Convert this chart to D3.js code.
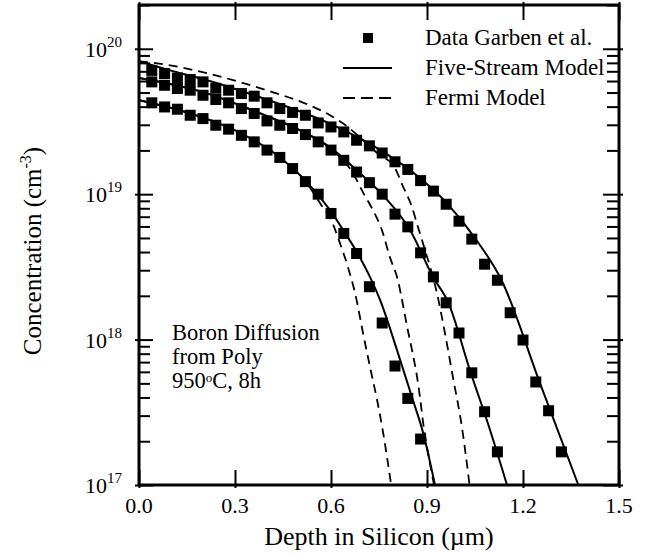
<!DOCTYPE html>
<html><head><meta charset="utf-8">
<script src="https://cdn.jsdelivr.net/npm/d3@7"></script>
<style>
body{margin:0;background:#fff;}
text{font-family:"Liberation Serif","Times New Roman",serif;fill:#000;}
</style></head>
<body><div id="chart"></div>
<script>
// ---------- data ----------
const xTicks = [0, 0.3, 0.6, 0.9, 1.2, 1.5];
const xTickLabels = ["0.0", "0.3", "0.6", "0.9", "1.2", "1.5"];
const yMajorTicks = [1e17, 1e18, 1e19, 1e20];
const yMajorExp = ["17", "18", "19", "20"];

// measured data (Garben et al.), three profiles
const depthA = [0.04,0.08,0.12,0.16,0.20,0.24,0.28,0.32,0.36,0.40,0.44,0.48,0.52,0.56,0.60,0.64,0.68,0.72,0.76,0.80,0.84,0.88,0.92,0.96,1.00,1.04,1.08,1.12,1.16,1.20,1.24,1.28,1.32];
const concA = [7.1e19,6.76e19,6.3e19,6.14e19,5.92e19,5.35e19,5.19e19,4.92e19,4.72e19,4.25e19,3.88e19,3.65e19,3.49e19,3.09e19,2.9e19,2.68e19,2.35e19,2.15e19,1.92e19,1.67e19,1.48e19,1.24e19,1.05e19,8.53e18,6.52e18,4.91e18,3.3e18,2.56e18,1.53e18,9.93e17,5.11e17,3.24e17,1.69e17];
const depthB = [0.04,0.08,0.12,0.16,0.20,0.24,0.28,0.32,0.36,0.40,0.44,0.48,0.52,0.56,0.60,0.64,0.68,0.72,0.76,0.80,0.84,0.88,0.92,0.96,1.00,1.04,1.08,1.12];
const concB = [5.92e19,5.61e19,5.33e19,5.19e19,4.79e19,4.48e19,4.25e19,3.88e19,3.59e19,3.19e19,2.98e19,2.83e19,2.57e19,2.29e19,2.01e19,1.71e19,1.42e19,1.2e19,1.0e19,7.29e18,5.96e18,3.95e18,2.7e18,1.79e18,1.11e18,5.91e17,3.19e17,1.69e17];
const depthC = [0.04,0.08,0.12,0.16,0.20,0.24,0.28,0.32,0.36,0.40,0.44,0.48,0.52,0.56,0.60,0.64,0.68,0.72,0.76,0.80,0.84,0.88];
const concC = [4.25e19,3.98e19,3.84e19,3.49e19,3.31e19,2.98e19,2.8e19,2.54e19,2.29e19,2.01e19,1.79e19,1.5e19,1.22e19,1.0e19,7.37e18,5.37e18,3.91e18,2.31e18,1.3e18,6.58e17,3.94e17,2.07e17];

// Five-Stream model (solid)
const fiveA_x = [0,0.097,0.191,0.378,0.600,0.756,0.878,0.959,1.050,1.133,1.253,1.373];
const fiveA_y = [8.2e19,7.1e19,6.27e19,4.64e19,3.03e19,2.0e19,1.29e19,8.81e18,4.99e18,2.56e18,5.02e17,1e17];
const fiveB_x = [0,0.191,0.378,0.503,0.597,0.681,0.763,0.847,0.919,0.966,1.034,1.097,1.150];
const fiveB_y = [6.3e19,5.1e19,3.6e19,2.75e19,2.1e19,1.46e19,9.8e18,5.67e18,2.69e18,1.81e18,6.17e17,2.39e17,1e17];
const fiveC_x = [0,0.159,0.319,0.441,0.519,0.597,0.638,0.681,0.722,0.756,0.806,0.856,0.888,0.925];
const fiveC_y = [4.43e19,3.6e19,2.62e19,1.79e19,1.25e19,7.76e18,5.67e18,3.99e18,2.69e18,1.81e18,8.5e17,3.84e17,2.28e17,1e17];

// Fermi model (dashed)
const fermiA_x = [0,0.056,0.213,0.316,0.419,0.525,0.597,0.650,0.700,0.753,0.791,0.806,0.822,0.853,0.872,0.891,0.931,0.956,0.981,1.009,1.033];
const fermiA_y = [8.2e19,7.94e19,6.79e19,5.89e19,5.02e19,4.16e19,3.49e19,2.93e19,2.35e19,1.85e19,1.61e19,1.42e19,1.17e19,8.15e18,5.93e18,4.33e18,2.09e18,1.11e18,5.52e17,2.51e17,1e17];
const fermiB_x = [0,0.191,0.378,0.503,0.597,0.669,0.700,0.728,0.759,0.784,0.809,0.825,0.838,0.853,0.869,0.878,0.888,0.900,0.913,0.922];
const fermiB_y = [6.3e19,5.1e19,3.6e19,2.75e19,2.07e19,1.39e19,1.03e19,8.0e18,5.67e18,3.69e18,2.56e18,1.73e18,1.22e18,8.5e17,5.52e17,4.03e17,2.67e17,1.82e17,1.27e17,1e17];
const fermiC_x = [0,0.159,0.319,0.441,0.519,0.566,0.606,0.628,0.653,0.678,0.700,0.722,0.744,0.763,0.788];
const fermiC_y = [4.43e19,3.6e19,2.62e19,1.79e19,1.23e19,8.67e18,6.22e18,4.6e18,3.15e18,1.96e18,1.11e18,6.47e17,3.84e17,2.28e17,1e17];

const legendLabels = ["Data Garben et al.", "Five-Stream Model", "Fermi Model"];
const noteLines = ["Boron Diffusion", "from Poly"];

// ---------- drawing ----------
const W = 655, H = 556;
const svg = d3.select("#chart").append("svg").attr("width", W).attr("height", H);
const x = d3.scaleLinear().domain([0, 1.5]).range([139, 619]);
const y = d3.scaleLog().domain([1e17, 2e20]).range([485, 5]);
const L = 139, R = 619, T = 5, B = 485;
const yMinor = y.ticks().filter(v => !yMajorTicks.includes(v));

function styleAxis(g){ g.select(".domain").remove(); g.selectAll(".tick line").attr("stroke","#000").attr("stroke-width",2); g.selectAll(".tick text").remove(); }

// bottom
svg.append("g").attr("transform",`translate(0,${B})`).call(d3.axisBottom(x).tickValues(xTicks).tickSize(-15)).call(styleAxis);
svg.append("g").attr("transform",`translate(0,${B})`).call(d3.axisBottom(x).tickValues(xTicks).tickSize(3)).call(styleAxis);
// top
svg.append("g").attr("transform",`translate(0,${T})`).call(d3.axisTop(x).tickValues(xTicks).tickSize(-15)).call(styleAxis);
svg.append("g").attr("transform",`translate(0,${T})`).call(d3.axisTop(x).tickValues(xTicks).tickSize(3)).call(styleAxis);
// left
svg.append("g").attr("transform",`translate(${L},0)`).call(d3.axisLeft(y).tickValues(yMajorTicks).tickSize(-14)).call(styleAxis);
svg.append("g").attr("transform",`translate(${L},0)`).call(d3.axisLeft(y).tickValues(yMajorTicks).tickSize(4)).call(styleAxis);
svg.append("g").attr("transform",`translate(${L},0)`).call(d3.axisLeft(y).tickValues(yMinor).tickSize(-11)).call(styleAxis);
// right
svg.append("g").attr("transform",`translate(${R},0)`).call(d3.axisRight(y).tickValues(yMajorTicks).tickSize(-16)).call(styleAxis);
svg.append("g").attr("transform",`translate(${R},0)`).call(d3.axisRight(y).tickValues(yMajorTicks).tickSize(4)).call(styleAxis);
svg.append("g").attr("transform",`translate(${R},0)`).call(d3.axisRight(y).tickValues(yMinor).tickSize(-12)).call(styleAxis);

// frame
svg.append("rect").attr("x",L).attr("y",T).attr("width",R-L).attr("height",B-T)
  .attr("fill","none").attr("stroke","#000").attr("stroke-width",3);

// x tick labels
svg.append("g").selectAll("text").data(xTicks).join("text")
  .attr("x", d => x(d)).attr("y", 513).attr("text-anchor","middle").attr("font-size",22)
  .text((d,i) => xTickLabels[i]);

// y tick labels
const yl = svg.append("g").selectAll("text").data(yMajorTicks).join("text")
  .attr("x", 122).attr("y", d => y(d) + 8).attr("text-anchor","end").attr("font-size",22);
yl.append("tspan").text("10");
yl.append("tspan").attr("font-size",15).attr("dy",-10).text((d,i) => yMajorExp[i]);

// axis titles
svg.append("text").attr("x",(L+R)/2).attr("y",545).attr("text-anchor","middle").attr("font-size",26)
  .text("Depth in Silicon (\u00B5m)");
const yt = svg.append("text").attr("transform",`translate(41,${(T+B)/2+6}) rotate(-90)`)
  .attr("text-anchor","middle").attr("font-size",25);
yt.append("tspan").text("Concentration (cm");
yt.append("tspan").attr("font-size",16).attr("dy",-10).text("-3");
yt.append("tspan").attr("dy",10).text(")");

// curves
const lineGen = d3.line().x(d => x(d[0])).y(d => y(d[1])).curve(d3.curveMonotoneX);
function curve(xs, ys){ return xs.map((v,i) => [v, ys[i]]); }
const plot = svg.append("g");
const solids = [curve(fiveA_x,fiveA_y), curve(fiveB_x,fiveB_y), curve(fiveC_x,fiveC_y)];
const dashes = [curve(fermiA_x,fermiA_y), curve(fermiB_x,fermiB_y), curve(fermiC_x,fermiC_y)];
plot.selectAll(".solid").data(solids).join("path").attr("class","solid")
  .attr("d", lineGen).attr("fill","none").attr("stroke","#000").attr("stroke-width",2);
plot.selectAll(".dash").data(dashes).join("path").attr("class","dash")
  .attr("d", lineGen).attr("fill","none").attr("stroke","#000").attr("stroke-width",1.8)
  .attr("stroke-dasharray","9,6");

// markers
const sq = 11;
const pts = [].concat(curve(depthA,concA), curve(depthB,concB), curve(depthC,concC));
plot.selectAll(".pt").data(pts).join("rect").attr("class","pt")
  .attr("x", d => x(d[0]) - sq/2).attr("y", d => y(d[1]) - sq/2)
  .attr("width", sq).attr("height", sq).attr("fill","#000");

// legend
const lg = svg.append("g");
lg.append("rect").attr("x",368-5).attr("y",38-5).attr("width",10).attr("height",10).attr("fill","#000");
lg.append("line").attr("x1",343).attr("x2",392).attr("y1",68).attr("y2",68).attr("stroke","#000").attr("stroke-width",2);
lg.append("line").attr("x1",343).attr("x2",392).attr("y1",98).attr("y2",98).attr("stroke","#000").attr("stroke-width",1.8).attr("stroke-dasharray","12,6");
lg.selectAll("text").data(legendLabels).join("text")
  .attr("x",425).attr("y",(d,i) => 45 + i*30).attr("font-size",23).text(d => d);

// annotation
const note = svg.append("g");
note.selectAll("text.n").data(noteLines).join("text").attr("class","n")
  .attr("x",172).attr("y",(d,i) => 340 + i*24).attr("font-size",22.5).text(d => d);
const t3 = note.append("text").attr("x",172).attr("y",388).attr("font-size",22.5);
t3.append("tspan").text("950");
t3.append("tspan").attr("font-size",13).attr("dy",-6).text("o");
t3.append("tspan").attr("dy",6).text("C, 8h");
</script></body></html>
